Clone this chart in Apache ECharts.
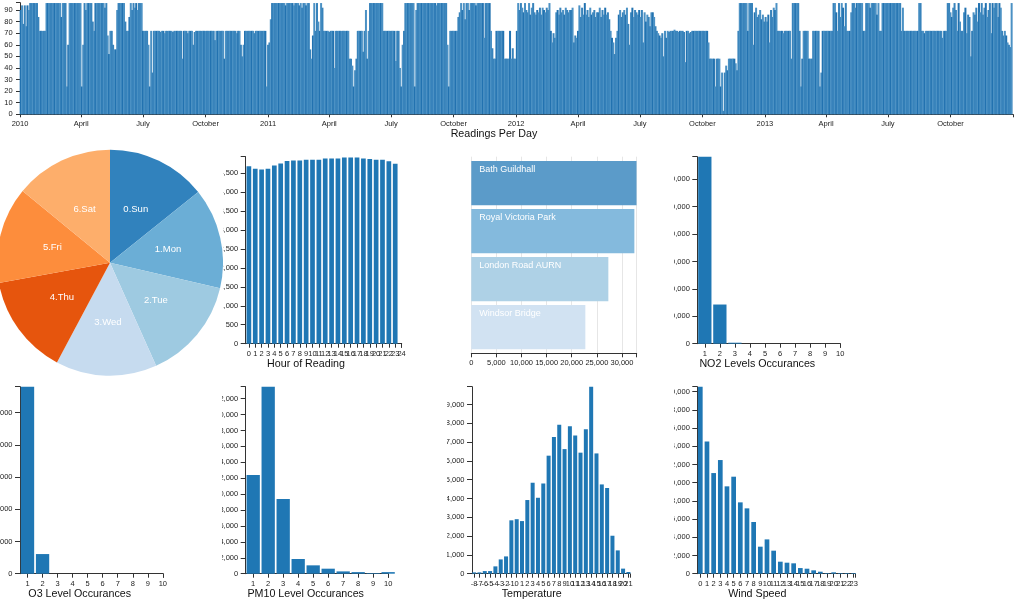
<!DOCTYPE html>
<html><head><meta charset="utf-8">
<style>
html,body{margin:0;padding:0;background:#fff;width:1024px;height:601px;overflow:hidden}
.c{position:absolute;overflow:hidden}
</style>
<script src="https://cdn.jsdelivr.net/npm/echarts@6/dist/echarts.min.js"></script>
</head><body>
<div class="c" id="top" style="left:0;top:0;width:1024px;height:145px"></div>
<div class="c" id="pie" style="left:0;top:148px;width:223px;height:232px"></div>
<div class="c" id="hour" style="left:223px;top:150px;width:190px;height:225px"></div>
<div class="c" id="site" style="left:460px;top:150px;width:190px;height:225px"></div>
<div class="c" id="no2" style="left:674px;top:150px;width:190px;height:225px"></div>
<div class="c" id="o3" style="left:0;top:380px;width:180px;height:221px"></div>
<div class="c" id="pm10" style="left:222px;top:380px;width:190px;height:221px"></div>
<div class="c" id="temp" style="left:447px;top:380px;width:190px;height:221px"></div>
<div class="c" id="wind" style="left:674px;top:380px;width:190px;height:221px"></div>
<script>
// Readings per day, one value for every two days
const readings2010 = [
90,94,78,94,76,94,90,96,96,96,
96,96,96,84,72,72,72,72,72,96,
96,96,96,96,96,96,96,96,96,96,
84,96,96,96,24,60,96,96,96,96,
96,96,96,96,96,24,60,96,90,96,
96,96,96,80,72,96,96,96,96,96,
96,96,92,96,68,52,72,72,60,56,
56,90,96,96,96,96,96,80,72,72,
84,96,90,96,92,96,90,96,96,96,
72,72,72,72,60,24,72,36,72,72,
72,72,72,71,72,72,70,72,72,72,
72,72,71,72,72,72,72,72,72,48,
72,72,72,70,72,72,72,60,71,72,
72,72,72,72,72,72,72,72,72,72,
72,72,72,64,72,72,72,72,72,72,
48,72,72,72,72,72,72,72,72,70,
72,72,60,50,60,72,72,72,72,72,
72,72,70,72,72,72,72,72,72,72,
72,24,60];
const readings2011 = [
62,82,96,96,96,96,96,96,96,96,
96,96,94,96,96,96,96,96,94,96,
96,96,94,96,92,96,96,94,96,96,
56,48,68,96,72,96,80,72,96,92,
72,72,72,72,71,72,72,72,40,72,
72,72,72,72,72,72,72,72,72,48,
48,42,24,38,48,72,72,72,72,54,
72,90,48,72,96,96,96,96,96,96,
96,96,96,96,72,72,72,72,72,72,
72,72,72,46,72,72,40,24,60,72,
96,96,96,96,96,96,96,24,90,96,
96,96,96,96,96,96,96,96,96,96,
96,96,96,94,96,96,96,96,96,96,
96,60,24,72,72,72,72,72,72,84,
88,96,90,96,82,96,96,90,96,96,
96,96,94,96,96,96,96,96,66,96,
96,96,96,72,57,48,48,72,72,72,
72,72,72,48,48,48,48,72,48,57,
48,48];
const readings2012 = [
72,96,90,96,92,88,96,90,88,96,
86,92,96,88,86,90,88,92,86,92,
90,88,92,90,96,72,62,70,66,88,
90,86,92,88,90,86,92,90,88,90,
90,92,62,68,66,72,94,84,92,86,
96,86,90,84,92,86,88,90,84,88,
88,92,84,90,86,92,86,88,82,72,
66,62,52,66,72,86,90,84,88,90,
86,92,78,60,88,92,84,90,88,86,
90,84,90,62,88,80,86,84,76,88,
88,84,76,72,70,68,66,70,50,72,
66,72,71,72,72,72,73,72,72,71,
72,72,72,71,45,72,72,70,71,72,
72,72,72,72,72,72,72,72,72,72,
72,62,48,48,48,48,24,48,48,48,
24,36,3,36,42,38,48,48,48,48,
48,44,38,72,96,96,96,96,96,96,
72,96,96,96,60,88,92,84,86,90,
82,86,80];
const readings2013 = [
84,80,86,62,90,84,92,90,96,72,
72,72,72,70,72,72,72,72,72,48,
96,96,96,96,96,72,24,48,72,72,
72,72,48,48,48,72,72,72,72,72,
24,36,72,72,72,72,72,72,72,72,
96,96,88,72,96,84,96,92,76,96,
72,72,72,88,96,96,92,96,96,96,
96,96,72,72,96,96,96,92,96,96,
96,96,86,96,72,72,96,96,96,96,
96,96,96,96,96,96,96,96,96,96,
72,92,72,72,72,72,72,72,72,72,
72,72,72,96,96,72,72,70,72,72,
72,72,72,72,72,72,72,72,72,72,
66,72,72,72,96,96,88,84,92,96,
90,72,96,80,72,72,88,92,70,86,
84,50,72,88,86,92,80,96,88,96,
86,92,96,84,90,96,70,96,92,96,
96,84,96,92,72,68,72,68,62,60,
58,96];
const monthTickDates = ["2010-01-01","2010-04-01","2010-07-01","2010-10-01","2011-01-01","2011-04-01","2011-07-01","2011-10-01","2012-01-01","2012-04-01","2012-07-01","2012-10-01","2013-01-01","2013-04-01","2013-07-01","2013-10-01"];
const monthTickNames = ["2010","April","July","October","2011","April","July","October","2012","April","July","October","2013","April","July","October"];
const readingTicks = [0,10,20,30,40,50,60,70,80,90];

const dayNames = ["0.Sun","1.Mon","2.Tue","3.Wed","4.Thu","5.Fri","6.Sat"];
const dayValues = [16250,16400,16720,16500,16370,15710,16050];

const hours = [0,1,2,3,4,5,6,7,8,9,10,11,12,13,14,15,16,17,18,19,20,21,22,23];
const hourValues = [4675,4613,4595,4613,4700,4750,4815,4830,4830,4850,4850,4850,4885,4885,4885,4910,4910,4910,4885,4870,4850,4850,4810,4745];
const hourTicks = [0,500,1000,1500,2000,2500,3000,3500,4000,4500];

const sites = ["Bath Guildhall","Royal Victoria Park","London Road AURN","Windsor Bridge"];
const siteValues = [32900,32470,27290,22710];
const siteTicks = [0,5000,10000,15000,20000,25000,30000];

const levels = [1,2,3,4,5,6,7,8,9,10];
const no2Values = [68250,14300,360,0,0,0,0,0,0,0];
const no2Ticks = [0,10000,20000,30000,40000,50000,60000];
const o3Values = [58075,6100,0,0,0,0,0,0,0,0];
const o3Ticks = [0,10000,20000,30000,40000,50000];
const pm10Values = [12400,23500,9400,1850,1050,630,290,200,80,200];
const pm10Ticks = [0,2000,4000,6000,8000,10000,12000,14000,16000,18000,20000,22000];

const temps = [-8,-7,-6,-5,-4,-3,-2,-1,0,1,2,3,4,5,6,7,8,9,10,11,12,13,14,15,16,17,18,19,20,21];
const tempValues = [70,70,140,140,390,760,920,2840,2900,2800,3920,4840,4040,4800,6280,7270,7920,6630,7840,7360,6440,7680,9950,6400,4750,4560,2020,1240,270,90];
const tempTicks = [0,1000,2000,3000,4000,5000,6000,7000,8000,9000];

const winds = [0,1,2,3,4,5,6,7,8,9,10,11,12,13,14,15,16,17,18,19,20,21,22,23];
const windValues = [20550,14540,11060,12490,9600,10660,7840,7180,5680,2970,3770,2530,1320,1210,1140,620,550,370,220,70,150,70,70,70];
const windTicks = [0,2000,4000,6000,8000,10000,12000,14000,16000,18000,20000];

const FONT = '"Liberation Sans", Arial, sans-serif';
const AXIS = '#333', TEXT = '#222', BAR = '#1f77b4', TICK = 7.5, TITLE = 10.7;
const fmt = v => Number(v).toLocaleString('en-US');
const line = {show:true,onZero:false,lineStyle:{color:AXIS,width:1}};
const mk = id => echarts.init(document.getElementById(id),null,{renderer:'canvas'});
const titleOf = (text,x,y) => ({text,left:x,top:y-4,textAlign:'center',padding:0,
  textStyle:{fontFamily:FONT,fontSize:TITLE,fontWeight:'normal',color:'#111'}});

function histogram(id,name,xs,values,yTicks,box){
  const [dl,dt,x0,x1,yt,yb,xmin,xmax,yMax,barW,tx,ty] = box;
  const xTicks = xs.concat(id==='hour'?[24]:[]);
  mk(id).setOption({
    animation:false,
    title:titleOf(name,tx-dl,ty-dt),
    grid:{left:x0-dl,width:x1-x0,top:yt-dt,height:yb-yt,containLabel:false,outerBoundsMode:'none'},
    xAxis:{type:'value',min:xmin,max:xmax,axisLine:line,splitLine:{show:false},
      axisTick:{show:true,length:4,lineStyle:{color:AXIS},customValues:xTicks.concat([xmax])},
      // empty end labels absorb the axis's overlap trimming, so every real label stays
      axisLabel:{show:true,hideOverlap:false,customValues:[xmin].concat(xTicks,[xmax]),margin:6,fontSize:TICK,color:TEXT,fontFamily:FONT,
        formatter:v=>xTicks.includes(v)?String(v):''}},
    yAxis:{type:'value',min:0,max:yMax,axisLine:line,splitLine:{show:false},
      axisTick:{show:true,length:5,lineStyle:{color:AXIS},customValues:yTicks.concat([yMax])},
      axisLabel:{show:true,showMinLabel:true,showMaxLabel:true,customValues:yTicks,margin:7.5,fontSize:TICK,color:TEXT,fontFamily:FONT,formatter:fmt}},
    series:[{type:'bar',clip:false,barWidth:barW,itemStyle:{color:BAR},
      data:xs.map((x,i)=>[x,values[i]])}]
  });
}

// Readings per day
(function(){
  const DAY = 864e5, start = Date.UTC(2010,0,1), end = Date.UTC(2014,0,1);
  const all = readings2010.concat(readings2011,readings2012,readings2013);
  const bands = ['#2272b0','#4b91c4','#3883bb','#3883bb','#4b91c4'];
  const ticks = monthTickDates.map(d=>Date.parse(d+'T00:00:00Z'));
  const names = new Map(ticks.map((t,i)=>[t,monthTickNames[i]]));
  mk('top').setOption({
    animation:false,
    title:titleOf('Readings Per Day',494,133),
    grid:{left:20,width:993,top:2.7,height:111.6,containLabel:false,outerBoundsMode:'none'},
    xAxis:{type:'value',min:start,max:end,axisLine:line,splitLine:{show:false},
      axisTick:{show:true,length:3,lineStyle:{color:AXIS},customValues:ticks.concat([end])},
      axisLabel:{show:true,showMinLabel:true,customValues:ticks,margin:6,fontSize:TICK,color:TEXT,fontFamily:FONT,formatter:v=>names.get(v)||''}},
    yAxis:{type:'value',min:0,max:96.3,axisLine:line,splitLine:{show:false},
      axisTick:{show:true,length:4,lineStyle:{color:AXIS},customValues:readingTicks.concat([96.3])},
      axisLabel:{show:true,customValues:readingTicks,margin:7.3,fontSize:TICK,color:TEXT,fontFamily:FONT}},
    series:[{type:'bar',barWidth:2,data:all.map((v,i)=>({value:[start+(2*i+1)*DAY,v],itemStyle:{color:bands[i%5]}}))}]
  });
})();

// Day of week
mk('pie').setOption({
  animation:false,
  color:['#3182bd','#6baed6','#9ecae1','#c6dbef','#e6550d','#fd8d3c','#fdae6b'],
  series:[{type:'pie',center:[110,114.7],radius:[0,113],startAngle:90,clockwise:true,silent:true,
    label:{show:true,position:'inside',formatter:'{b}',color:'#fff',fontSize:9.5,fontFamily:FONT},
    labelLine:{show:false},
    data:dayNames.map((n,i)=>({name:n,value:dayValues[i]}))}]
});

histogram('hour','Hour of Reading',hours,hourValues,hourTicks,[223,150,245.7,401.7,156.7,343.7,-0.5,24.02,4930,4.7,306,363]);

// Sites
(function(){
  const dl=460, dt=150, x0=471.3, x1=636.7, xMax=32935;
  const ax = (extra)=>Object.assign({type:'value',min:0,max:xMax},extra);
  mk('site').setOption({
    animation:false,
    grid:[{left:x0-dl,width:x1-x0,top:156.7-dt,height:196.6,outerBoundsMode:'none'},
          {left:x0-dl,width:x1-x0,top:159.2-dt,height:192,outerBoundsMode:'none'}],
    xAxis:[ax({gridIndex:0,axisLine:line,splitLine:{show:true,lineStyle:{color:'#e6e6e6'}},
        axisTick:{show:true,length:4,lineStyle:{color:AXIS},customValues:siteTicks.concat([xMax])},
        axisLabel:{show:true,showMinLabel:true,customValues:siteTicks,margin:6,fontSize:TICK,color:TEXT,fontFamily:FONT,formatter:fmt}}),
      ax({gridIndex:1,show:false})],
    yAxis:[{gridIndex:0,type:'value',show:false},
      {gridIndex:1,type:'category',inverse:true,show:false,data:sites}],
    series:[{type:'bar',xAxisIndex:1,yAxisIndex:1,barWidth:44.3,
      label:{show:true,position:[8,3.5],formatter:'{b}',color:'#fff',fontSize:9,fontFamily:FONT},
      data:siteValues.map((v,i)=>({value:v,itemStyle:{color:['#5b9bc9','#84badd','#aed1e6','#d1e2f2'][i]}}))}]
  });
})();

histogram('no2','NO2 Levels Occurances',levels,no2Values,no2Ticks,[674,150,697.3,840.3,156.7,343.7,0.5,10.01,68250,13.3,757.3,363]);
histogram('o3','O3 Level Occurances',levels,o3Values,o3Ticks,[0,380,20,163,386.7,573.7,0.5,10.01,58075,13.3,79.7,592.7]);
histogram('pm10','PM10 Level Occurances',levels,pm10Values,pm10Ticks,[222,380,245.7,388.3,386.7,573.7,0.5,10.01,23500,13.3,305.7,592.7]);
histogram('temp','Temperature',temps,tempValues,tempTicks,[447,380,472,630,386.7,573.7,-8.4,21.3,9950,4,531.7,592.7]);
histogram('wind','Wind Speed',winds,windValues,windTicks,[674,380,697.3,855,386.7,573.7,-0.45,23.2,20550,4.7,757.3,592.7]);
</script>
</body></html>
